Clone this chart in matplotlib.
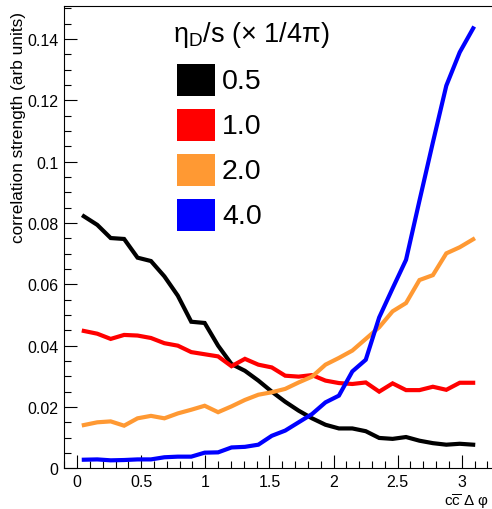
import numpy as np
import matplotlib
matplotlib.use("Agg")
import matplotlib.pyplot as plt
from matplotlib.patches import Rectangle
from matplotlib.ticker import MultipleLocator

plt.rcParams["font.family"] = ["Liberation Sans", "DejaVu Sans"]
plt.rcParams["mathtext.fontset"] = "custom"
plt.rcParams["mathtext.rm"] = "Liberation Sans"
plt.rcParams["mathtext.it"] = "Liberation Sans:italic"

# 30 bins of c-cbar delta phi over [0, pi]
n_bins = 30
dphi = (np.arange(n_bins) + 0.5) * np.pi / n_bins

# correlation strength for each eta_D/s value
corr_05 = [0.0822, 0.0794, 0.0751, 0.0748, 0.0687, 0.0676, 0.0626, 0.0563, 0.0478, 0.0474,
           0.0400, 0.0340, 0.0318, 0.0286, 0.0250, 0.0217, 0.0188, 0.0163, 0.0142, 0.0130,
           0.0130, 0.0121, 0.0099, 0.0096, 0.0102, 0.0090, 0.0082, 0.0077, 0.0080, 0.0077]
corr_10 = [0.0448, 0.0439, 0.0422, 0.0435, 0.0433, 0.0425, 0.0408, 0.0400, 0.0379, 0.0372,
           0.0365, 0.0333, 0.0357, 0.0338, 0.0329, 0.0302, 0.0299, 0.0304, 0.0286, 0.0278,
           0.0275, 0.0280, 0.0250, 0.0277, 0.0255, 0.0255, 0.0266, 0.0256, 0.0279, 0.0279]
corr_20 = [0.0141, 0.0150, 0.0153, 0.0139, 0.0163, 0.0171, 0.0163, 0.0179, 0.0191, 0.0204,
           0.0183, 0.0202, 0.0223, 0.0240, 0.0248, 0.0259, 0.0280, 0.0299, 0.0338, 0.0360,
           0.0384, 0.0422, 0.0460, 0.0512, 0.0539, 0.0614, 0.0630, 0.0701, 0.0721, 0.0747]
corr_40 = [0.0028, 0.0029, 0.0026, 0.0027, 0.0029, 0.0029, 0.0036, 0.0038, 0.0038, 0.0051,
           0.0052, 0.0068, 0.0070, 0.0077, 0.0106, 0.0123, 0.0150, 0.0177, 0.0215, 0.0237,
           0.0316, 0.0354, 0.0492, 0.0587, 0.0680, 0.0873, 0.1063, 0.1248, 0.1357, 0.1435]

labels = ["0.5", "1.0", "2.0", "4.0"]
colors = ["#000000", "#ff0000", "#ff9933", "#0000ff"]
series = [corr_05, corr_10, corr_20, corr_40]

W, H = 492, 510
fig = plt.figure(figsize=(W / 100, H / 100), dpi=100)


def px(x, y):
    # pixel position (from top-left) -> figure fraction
    return x / W, 1 - y / H


left, top, bottom = 64.3, 6.7, 469.3
right = 497.0
ax = fig.add_axes([left / W, 1 - bottom / H, (right - left) / W, (bottom - top) / H])

for y, c in zip(series, colors):
    ax.plot(dphi, y, color=c, lw=3.0, solid_joinstyle="miter")

ax.set_xlim(-0.1, -0.1 + (right - left) / 128.2)
ax.set_ylim(0, (bottom - top) / 3066.0)
ax.xaxis.set_major_locator(MultipleLocator(0.5))
ax.xaxis.set_minor_locator(MultipleLocator(0.1))
ax.yaxis.set_major_locator(MultipleLocator(0.02))
ax.yaxis.set_minor_locator(MultipleLocator(0.005))
ax.xaxis.set_major_formatter(lambda v, p: f"{v:g}")
ax.yaxis.set_major_formatter(lambda v, p: f"{v:g}")
ax.tick_params(which="both", direction="in", width=0.8, labelsize=11.5, color="black")
ax.tick_params(which="major", length=9.4)
ax.tick_params(which="minor", length=5)
ax.tick_params(axis="x", pad=4)
ax.tick_params(axis="y", pad=4)
ax.spines["right"].set_visible(False)
for s in ["left", "top", "bottom"]:
    ax.spines[s].set_linewidth(0.8)

# axis titles
fig.text(*px(18.5, 12), "correlation strength (arb units)", rotation=90,
         ha="center", va="top", fontsize=12.4)
fig.text(*px(489, 502), r"c$\mathregular{\overline{c}}$ Δ φ", ha="right", va="center",
         fontsize=11)

# legend
fig.text(*px(173, 42), r"$\mathregular{\eta_D}$/s (× 1/4π)", ha="left", va="baseline",
         fontsize=19.5)
for i, (lab, c) in enumerate(zip(labels, colors)):
    y0 = 65 + 45 * i
    x0, y1 = px(177, y0 + 32)
    fig.patches.append(Rectangle((x0, y1), 38 / W, 32 / H, transform=fig.transFigure,
                                 facecolor=c, edgecolor="none"))
    fig.text(*px(222, y0 + 17), lab, ha="left", va="center", fontsize=20.5)

fig.savefig("out.png", dpi=100)
